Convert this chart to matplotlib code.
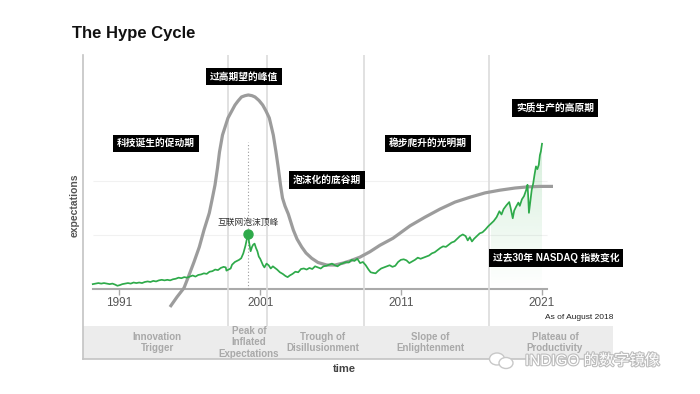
import numpy as np
import matplotlib
matplotlib.use("Agg")
import matplotlib.pyplot as plt
from matplotlib.patches import Rectangle, Ellipse
import matplotlib.patheffects as pe

plt.rcParams['font.family'] = ['Liberation Sans', 'Noto Sans CJK SC', 'DejaVu Sans']

# ---- data ----
tick_years = [1991, 2001, 2011, 2021]
phase_bounds = [1998.71, 2001.50, 2008.40, 2017.28]
phase_names = ["Innovation\nTrigger", "Peak of\nInflated\nExpectations",
               "Trough of\nDisillusionment", "Slope of\nEnlightenment",
               "Plateau of\nProductivity"]
phase_x = [1993.67, 2000.2, 2005.46, 2013.07, 2021.95]

hype_year = [1994.589, 1995.087, 1995.584, 1995.890, 1996.295, 1996.672, 1997.006, 1997.382,
             1997.574, 1997.788, 1997.965, 1998.107, 1998.321, 1998.711, 1999.209, 1999.422,
             1999.671, 1999.920, 2000.154, 2000.417, 2000.630, 2000.915, 2001.178, 2001.412,
             2001.647, 2001.931, 2002.123, 2002.286, 2002.443, 2002.585, 2002.763, 2002.997,
             2003.353, 2003.616, 2003.950, 2004.255, 2004.660, 2005.108, 2005.726, 2006.316,
             2006.89, 2007.38, 2008.09, 2008.80, 2009.51, 2010.44, 2011.65, 2012.71,
             2013.78, 2014.85, 2015.92, 2016.98, 2018.04, 2019.11, 2019.96, 2020.88, 2021.81]
hype_val = [-0.333, -0.148, 0.019, 0.222, 0.500, 0.778, 1.093, 1.407,
            1.648, 1.926, 2.241, 2.537, 2.852, 3.167, 3.407, 3.481,
            3.556, 3.580, 3.593, 3.580, 3.556, 3.491, 3.407, 3.296,
            3.167, 2.852, 2.537, 2.241, 1.926, 1.685, 1.537, 1.389,
            1.093, 0.926, 0.778, 0.667, 0.569, 0.491, 0.444, 0.444,
            0.48, 0.52, 0.59, 0.69, 0.81, 0.94, 1.17, 1.33,
            1.48, 1.61, 1.70, 1.78, 1.83, 1.87, 1.89, 1.90, 1.90]

nasdaq_year = [1989.1, 1989.3, 1989.5, 1989.7, 1989.9, 1990.1, 1990.3, 1990.5, 1990.7, 1990.85,
               1991.0, 1991.2, 1991.4, 1991.6, 1991.8, 1992.0, 1992.2, 1992.4, 1992.6, 1992.8,
               1993.0, 1993.2, 1993.4, 1993.6, 1993.8, 1994.0, 1994.2, 1994.4, 1994.6, 1994.8,
               1995.0, 1995.2, 1995.4, 1995.6, 1995.8, 1996.0, 1996.2, 1996.4, 1996.6, 1996.8,
               1997.0, 1997.2, 1997.4, 1997.6, 1997.8, 1998.0, 1998.2, 1998.4, 1998.55, 1998.6,
               1998.75, 1998.9, 1999.0, 1999.2, 1999.35, 1999.5, 1999.65, 1999.8, 1999.95, 2000.05,
               2000.13, 2000.22, 2000.32, 2000.42, 2000.5, 2000.6, 2000.7, 2000.8, 2000.9, 2001.0,
               2001.1, 2001.2, 2001.3, 2001.45, 2001.6, 2001.75, 2001.9, 2002.0, 2002.2, 2002.4,
               2002.6, 2002.8, 2002.95, 2003.1, 2003.3, 2003.5, 2003.7, 2003.9, 2004.1, 2004.3,
               2004.5, 2004.7, 2004.9, 2005.1, 2005.3, 2005.5, 2005.7, 2005.9, 2006.1, 2006.3,
               2006.5, 2006.7, 2006.9, 2007.1, 2007.3, 2007.5, 2007.7, 2007.9, 2008.1, 2008.3,
               2008.5, 2008.7, 2008.85, 2009.0, 2009.2, 2009.4, 2009.6, 2009.8, 2010.0, 2010.2,
               2010.4, 2010.6, 2010.8, 2011.0, 2011.2, 2011.4, 2011.6, 2011.8, 2012.0, 2012.2,
               2012.4, 2012.6, 2012.8, 2013.0, 2013.2, 2013.4, 2013.6, 2013.8, 2014.0, 2014.2,
               2014.4, 2014.6, 2014.8, 2015.0, 2015.2, 2015.4, 2015.6, 2015.75, 2015.9, 2016.05,
               2016.2, 2016.4, 2016.6, 2016.8, 2017.0, 2017.2, 2017.4, 2017.6, 2017.8, 2018.0,
               2018.15, 2018.3, 2018.5, 2018.7, 2018.8, 2018.95, 2019.05, 2019.2, 2019.35, 2019.45,
               2019.6, 2019.75, 2019.9, 2020.0, 2020.05, 2020.1, 2020.2, 2020.3, 2020.4, 2020.5,
               2020.6, 2020.7, 2020.8, 2020.88, 2020.95, 2021.03]
nasdaq_val = [0.09, 0.10, 0.11, 0.10, 0.11, 0.10, 0.09, 0.10, 0.08, 0.06,
              0.07, 0.09, 0.10, 0.11, 0.10, 0.12, 0.11, 0.12, 0.11, 0.13,
              0.14, 0.13, 0.15, 0.14, 0.16, 0.17, 0.16, 0.17, 0.16, 0.18,
              0.19, 0.21, 0.20, 0.22, 0.21, 0.23, 0.25, 0.23, 0.26, 0.27,
              0.29, 0.28, 0.32, 0.33, 0.36, 0.35, 0.39, 0.41, 0.40, 0.34,
              0.36, 0.38, 0.45, 0.50, 0.52, 0.54, 0.57, 0.66, 0.80, 0.92,
              1.02, 0.85, 0.70, 0.78, 0.82, 0.84, 0.76, 0.70, 0.60, 0.56,
              0.50, 0.44, 0.40, 0.47, 0.44, 0.38, 0.42, 0.40, 0.36, 0.31,
              0.28, 0.24, 0.22, 0.25, 0.28, 0.32, 0.31, 0.37, 0.38, 0.36,
              0.39, 0.37, 0.42, 0.40, 0.38, 0.42, 0.43, 0.45, 0.47, 0.44,
              0.42, 0.46, 0.48, 0.50, 0.49, 0.54, 0.52, 0.56, 0.48, 0.50,
              0.44, 0.36, 0.31, 0.30, 0.29, 0.34, 0.38, 0.40, 0.42, 0.44,
              0.41, 0.43, 0.50, 0.54, 0.55, 0.53, 0.48, 0.51, 0.54, 0.58,
              0.56, 0.58, 0.60, 0.62, 0.66, 0.68, 0.72, 0.76, 0.79, 0.78,
              0.82, 0.86, 0.88, 0.93, 0.98, 1.01, 0.98, 0.90, 0.96, 0.88,
              0.93, 0.98, 1.03, 1.05, 1.10, 1.16, 1.21, 1.26, 1.33, 1.44,
              1.38, 1.48, 1.55, 1.61, 1.50, 1.31, 1.45, 1.53, 1.60, 1.54,
              1.66, 1.72, 1.83, 1.93, 1.70, 1.41, 1.62, 1.84, 1.95, 2.12,
              2.27, 2.22, 2.30, 2.48, 2.55, 2.69]

peak_year, peak_val = 2000.13, 1.02

box_labels = ["过高期望的峰值", "科技诞生的促动期", "泡沫化的底谷期",
              "稳步爬升的光明期", "实质生产的高原期", "过去30年 NASDAQ 指数变化"]
box_pos = [(1999.85, 3.93), (1993.59, 2.70), (2005.75, 2.02),
           (2012.93, 2.70), (2021.95, 3.35), (2022.02, 0.57)]

green = '#2eaa4a'
hype_gray = '#9c9c9c'

fig = plt.figure(figsize=(7, 3.94), dpi=100)
ax = fig.add_axes([83/700, 1-359/394, 530/700, 304/394])
ax.set_xlim(1988.406, 2026.075)
ax.set_ylim(-1.2963, 4.3333)
ax.set_xticks([])
ax.set_yticks([])
for s in ['top', 'right']:
    ax.spines[s].set_visible(False)
for s in ['left', 'bottom']:
    ax.spines[s].set_color('#c4c4c4')
    ax.spines[s].set_linewidth(1.2)

band_top = -0.685
ax.axhspan(-1.2963, band_top, color='#ececec', zorder=0, lw=0)
ax.vlines(phase_bounds, band_top, 4.3333, color='#dcdcdc', lw=1.2, zorder=1)
ax.hlines([1, 2], 1989.12, 2021.39, color='#f1f1f1', lw=0.8, zorder=0)

# phase names in the band
clip = Rectangle((1988.4, -1.3), phase_bounds[1] - 1988.4, 2, transform=ax.transData)
for name, x in zip(phase_names, phase_x):
    t = ax.text(x, -0.99, name, ha='center', va='center', fontsize=7, fontweight='bold',
                color='#a9a9a9', linespacing=1.15, zorder=2)
    if name.startswith('Peak'):
        t.set_clip_path(clip)

# x axis at zero level
sec = ax.secondary_xaxis(1.2963 / 5.6296)
sec.set_xticks(tick_years)
sec.tick_params(length=4, width=1, color='#aaaaaa', labelsize=8.5, labelcolor='#555555', pad=2)
sec.spines['top'].set_visible(False)
sec.spines['bottom'].set_bounds(1989.12, 2021.39)
sec.spines['bottom'].set_color('#aaaaaa')
sec.spines['bottom'].set_linewidth(1.5)

ny = np.array(nasdaq_year)
nv = np.array(nasdaq_val)

# green gradient under the last stretch
sel = ny >= phase_bounds[3]
poly = ax.fill_between(ny[sel], 0, nv[sel], color='none', lw=0)
grad = np.zeros((100, 1, 4))
grad[..., :3] = matplotlib.colors.to_rgb(green)
grad[:, 0, 3] = np.linspace(0.0, 0.2, 100)
im = ax.imshow(grad, extent=[ny[sel].min(), ny[sel].max(), 0, nv[sel].max()],
               origin='lower', aspect='auto', zorder=2)
im.set_clip_path(poly.get_paths()[0], transform=ax.transData)
ax.set_xlim(1988.406, 2026.075)
ax.set_ylim(-1.2963, 4.3333)

ax.plot(hype_year, hype_val, color=hype_gray, lw=2.3, zorder=3, solid_capstyle='butt',
        solid_joinstyle='round')
ax.plot(ny, nv, color=green, lw=1.25, zorder=4)
ax.vlines(peak_year, 0, 2.72, color='#999999', lw=0.8, linestyles=(0, (1, 2)), zorder=3)
ax.plot([peak_year], [peak_val], 'o', color=green, ms=6.5, zorder=5)
ax.text(peak_year, 1.24, "互联网泡沫顶峰", ha='center', va='center', fontsize=6.3,
        color='#333333', zorder=6)

for lab, (x, y) in zip(box_labels, box_pos):
    ax.text(x, y, lab, ha='center', va='center', fontsize=7, fontweight='bold', color='white',
            zorder=7, bbox=dict(boxstyle='square,pad=0.38', fc='black', ec='none'))

ax.text(1.0, -0.537, "As of August 2018", transform=ax.get_yaxis_transform(),
        ha='right', va='center', fontsize=6, color='#222222')

fig.text(72/700, 1-38/394, "The Hype Cycle", fontsize=12, fontweight='bold',
         ha='left', va='baseline', color='#111111')
fig.text(75/700, 1-205/394, "expectations", rotation=90, fontsize=7.5, fontweight='bold',
         ha='center', va='center', color='#555555')
fig.text(344/700, 1-369/394, "time", fontsize=8, fontweight='bold',
         ha='center', va='center', color='#444444')

# watermark
for (ex, ey, ew, eh) in [(497, 359, 15, 12), (506, 363, 14, 11)]:
    fig.patches.append(Ellipse((ex/700, 1-ey/394), ew/700, eh/394, transform=fig.transFigure,
                               fc='white', ec='#c8c8c8', lw=1, zorder=8))
fig.text(525/700, 1-361/394, "INDIGO 的数字镜像", fontsize=11, color='white',
         ha='left', va='center', zorder=9,
         path_effects=[pe.withStroke(linewidth=1.6, foreground='#bdbdbd')])

fig.savefig('out.png', dpi=100)
